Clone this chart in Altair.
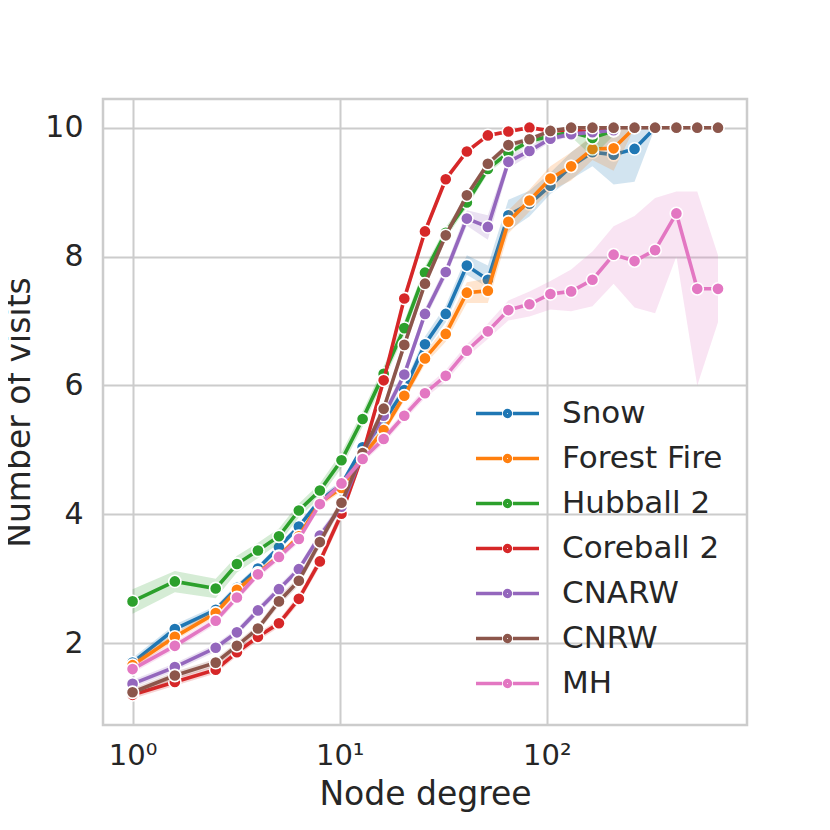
import altair as alt
import pandas as pd

# ---------------- data ----------------
degree = [1, 1.6, 2.52, 3.19, 4.03, 5.09, 6.35, 8.02, 10.2, 12.9, 16.3, 20.5, 25.8,
          32.5, 41.1, 51.9, 65.2, 82.4, 104, 131, 166, 210, 265, 333, 422, 532, 670]

series_names = ["Snow", "Forest Fire", "Hubball 2", "Coreball 2", "CNARW", "CNRW", "MH"]
colors = ["#1f77b4", "#ff7f0e", "#2ca02c", "#d62728", "#9467bd", "#8c564b", "#e377c2"]

snow_mean = [1.70, 2.22, 2.52, 2.86, 3.16, 3.49, 3.81, 4.22, 4.46, 5.04, 5.44, 5.93, 6.64,
             7.11, 7.86, 7.64, 8.64, 8.82, 9.10, 9.40, 9.62, 9.58, 9.67, 10.0]
snow_lo = [1.63, 2.15, 2.46, 2.80, 3.11, 3.44, 3.76, 4.16, 4.40, 4.98, 5.36, 5.84, 6.52,
           6.98, 7.72, 7.52, 8.40, 8.62, 8.97, 9.20, 9.40, 9.12, 9.16, 10.0]
snow_hi = [1.77, 2.29, 2.58, 2.92, 3.21, 3.54, 3.86, 4.28, 4.52, 5.10, 5.52, 6.02, 6.76,
           7.24, 8.02, 7.86, 8.88, 9.02, 9.30, 9.62, 9.86, 9.95, 10.0, 10.0]

ff_mean = [1.66, 2.10, 2.47, 2.83, 3.09, 3.35, 3.66, 4.18, 4.41, 4.90, 5.31, 5.84, 6.42,
           6.80, 7.44, 7.47, 8.54, 8.87, 9.21, 9.40, 9.67, 9.68, 10.0]
ff_lo = [1.60, 2.04, 2.41, 2.77, 3.04, 3.30, 3.61, 4.12, 4.35, 4.84, 5.24, 5.76, 6.33,
         6.68, 7.28, 7.28, 8.36, 8.70, 9.02, 9.18, 9.50, 9.33, 10.0]
ff_hi = [1.72, 2.16, 2.53, 2.89, 3.14, 3.40, 3.71, 4.24, 4.47, 4.96, 5.38, 5.92, 6.51,
         6.92, 7.60, 7.66, 8.72, 9.04, 9.40, 9.62, 9.88, 9.97, 10.0]

hub_mean = [2.65, 2.96, 2.85, 3.23, 3.44, 3.66, 4.06, 4.37, 4.84, 5.48, 6.18, 6.89, 7.75,
            8.37, 8.84, 9.36, 9.61, 9.79, 9.87, 9.93, 9.84, 9.95]
hub_lo = [2.46, 2.79, 2.70, 3.10, 3.32, 3.55, 3.95, 4.26, 4.72, 5.36, 6.06, 6.78, 7.65,
          8.28, 8.76, 9.29, 9.55, 9.74, 9.82, 9.86, 9.55, 9.88]
hub_hi = [2.84, 3.12, 3.00, 3.36, 3.56, 3.78, 4.17, 4.48, 4.96, 5.60, 6.30, 7.00, 7.85,
          8.46, 8.92, 9.43, 9.67, 9.84, 9.92, 9.98, 9.98, 10.0]

core_mean = [1.20, 1.40, 1.59, 1.86, 2.10, 2.31, 2.69, 3.27, 4.01, 4.93, 6.08, 7.35, 8.39,
             9.20, 9.63, 9.88, 9.94, 10.0, 9.95, 9.97, 9.92, 10.0]
core_lo = [1.14, 1.34, 1.53, 1.80, 2.04, 2.25, 2.62, 3.19, 3.92, 4.84, 5.99, 7.27, 8.32,
           9.15, 9.59, 9.85, 9.91, 9.98, 9.92, 9.94, 9.88, 9.98]
core_hi = [1.26, 1.46, 1.65, 1.92, 2.16, 2.37, 2.76, 3.35, 4.10, 5.02, 6.17, 7.43, 8.46,
           9.25, 9.67, 9.91, 9.97, 10.0, 9.98, 10.0, 9.96, 10.0]

cnarw_mean = [1.37, 1.63, 1.93, 2.17, 2.51, 2.84, 3.15, 3.67, 4.12, 4.95, 5.53, 6.17, 7.11,
              7.76, 8.59, 8.46, 9.47, 9.64, 9.83, 9.90, 9.93, 9.96]
cnarw_lo = [1.31, 1.57, 1.87, 2.11, 2.45, 2.78, 3.09, 3.60, 4.05, 4.87, 5.45, 6.09, 7.02,
            7.67, 8.48, 8.26, 9.37, 9.57, 9.78, 9.86, 9.89, 9.93]
cnarw_hi = [1.43, 1.69, 1.99, 2.23, 2.57, 2.90, 3.21, 3.74, 4.19, 5.03, 5.61, 6.25, 7.20,
            7.85, 8.72, 8.64, 9.56, 9.71, 9.88, 9.94, 9.97, 9.99]

cnrw_mean = [1.24, 1.50, 1.70, 1.96, 2.23, 2.65, 2.97, 3.57, 4.18, 4.95, 5.64, 6.63, 7.58,
             8.33, 8.95, 9.44, 9.73, 9.82, 9.95, 10.0, 10.0, 10.0, 10.0, 10.0, 10.0, 10.0, 10.0]
cnrw_lo = [1.18, 1.44, 1.64, 1.90, 2.17, 2.58, 2.90, 3.49, 4.10, 4.87, 5.56, 6.55, 7.50,
           8.26, 8.89, 9.39, 9.69, 9.78, 9.92, 9.99, 10.0, 10.0, 10.0, 10.0, 10.0, 10.0, 10.0]
cnrw_hi = [1.30, 1.56, 1.76, 2.02, 2.29, 2.72, 3.04, 3.65, 4.26, 5.03, 5.72, 6.71, 7.66,
           8.40, 9.01, 9.49, 9.77, 9.86, 9.98, 10.0, 10.0, 10.0, 10.0, 10.0, 10.0, 10.0, 10.0]

mh_mean = [1.60, 1.96, 2.35, 2.71, 3.07, 3.34, 3.62, 4.16, 4.48, 4.86, 5.17, 5.53, 5.88,
           6.15, 6.54, 6.84, 7.17, 7.26, 7.42, 7.46, 7.64, 8.03, 7.93, 8.10, 8.67, 7.50, 7.50]
mh_lo = [1.54, 1.90, 2.29, 2.65, 3.01, 3.28, 3.56, 4.10, 4.42, 4.80, 5.10, 5.46, 5.80,
         6.06, 6.44, 6.72, 7.01, 7.07, 7.18, 7.15, 7.23, 7.58, 7.21, 7.12, 8.00, 6.00, 6.98]
mh_hi = [1.66, 2.02, 2.41, 2.77, 3.13, 3.40, 3.68, 4.22, 4.54, 4.92, 5.24, 5.60, 5.96,
         6.24, 6.64, 6.96, 7.32, 7.46, 7.62, 7.80, 8.08, 8.47, 8.63, 8.91, 9.01, 9.01, 8.02]

series_data = {
    "Snow": (snow_mean, snow_lo, snow_hi),
    "Forest Fire": (ff_mean, ff_lo, ff_hi),
    "Hubball 2": (hub_mean, hub_lo, hub_hi),
    "Coreball 2": (core_mean, core_lo, core_hi),
    "CNARW": (cnarw_mean, cnarw_lo, cnarw_hi),
    "CNRW": (cnrw_mean, cnrw_lo, cnrw_hi),
    "MH": (mh_mean, mh_lo, mh_hi),
}

rows = []
for name in series_names:
    m, lo, hi = series_data[name]
    for i in range(len(m)):
        rows.append({"series": name, "degree": degree[i], "visits": m[i],
                     "lo": lo[i], "hi": hi[i]})
df = pd.DataFrame(rows)

# ---------------- styling ----------------
FONT = "DejaVu Sans"
TXT = "#262626"
GRID = "#cccccc"

xscale = alt.Scale(type="log", domain=[0.72, 925], nice=False)
yscale = alt.Scale(domain=[0.732, 10.445], nice=False, zero=False)
# stroke scale (lines, carries the legend) and fill scale (bands, markers):
# same name->colour mapping, the fill one listed in reverse so the two are not merged
stroke_scale = alt.Scale(domain=series_names, range=colors)
fill_scale = alt.Scale(domain=series_names[::-1], range=colors[::-1])

xaxis = alt.Axis(values=[1, 10, 100],
                 labelExpr="datum.value == 1 ? '10\u2070' : datum.value == 10 ? '10\u00b9' : '10\u00b2'",
                 grid=True, gridColor=GRID, gridWidth=2, domain=False, ticks=False,
                 labelFontSize=29, labelColor=TXT, labelFont=FONT, labelPadding=16,
                 titleFontSize=33, titleFontWeight="normal", titleColor=TXT, titleFont=FONT,
                 titlePadding=8)
yaxis = alt.Axis(values=[2, 4, 6, 8, 10], grid=True, gridColor=GRID, gridWidth=2,
                 domain=False, ticks=False,
                 labelFontSize=30, labelColor=TXT, labelFont=FONT, labelPadding=20,
                 titleFontSize=33, titleFontWeight="normal", titleColor=TXT, titleFont=FONT,
                 titlePadding=8)

# legend glyph: a line broken by a dot (unit = 27.75 px at symbolSize 3080)
legend_path = ("M-1.135,0L-0.195,0M0.195,0L1.135,0"
               "M0.108,0A0.108,0.108,0,1,1,-0.108,0A0.108,0.108,0,1,1,0.108,0"
               "M0.043,0A0.043,0.043,0,1,1,-0.043,0A0.043,0.043,0,1,1,0.043,0")
legend = alt.Legend(title=None, orient="none", legendX=375, legendY=285, padding=0,
                    symbolType=legend_path, symbolSize=3080, symbolStrokeWidth=3.4,
                    symbolOpacity=1,
                    labelFontSize=31, labelColor=TXT, labelFont=FONT, labelOffset=25,
                    labelLimit=400, rowPadding=0)

X = alt.X("degree:Q", scale=xscale, axis=xaxis, title="Node degree")
Y = alt.Y("visits:Q", scale=yscale, axis=yaxis, title="Number of visits")

base = alt.Chart(df)
layers = []
for name in series_names:
    b = base.transform_filter(alt.datum.series == name)
    area = b.mark_area(opacity=0.2, clip=True).encode(
        x=X,
        y=alt.Y("lo:Q", scale=yscale, axis=yaxis, title="Number of visits"),
        y2="hi:Q",
        fill=alt.Fill("series:N", scale=fill_scale, legend=None),
    )
    line = b.mark_line(strokeWidth=3.6, clip=True).encode(
        x=X, y=Y,
        stroke=alt.Stroke("series:N", scale=stroke_scale, legend=legend),
    )
    pts = b.mark_point(filled=True, size=150, opacity=1, stroke="white",
                       strokeWidth=1.6, clip=True).encode(
        x=X, y=Y,
        fill=alt.Fill("series:N", scale=fill_scale, legend=None),
    )
    layers += [area, line, pts]

chart = alt.layer(*layers).properties(
    width=644, height=626,
    autosize=alt.AutoSizeParams(type="none"),
    padding={"left": 95, "top": 91, "right": 60, "bottom": 90},
    background="white",
).configure_view(stroke=GRID, strokeWidth=2.5)

chart.save("out.html", embed_options={"renderer": "svg", "actions": False})
